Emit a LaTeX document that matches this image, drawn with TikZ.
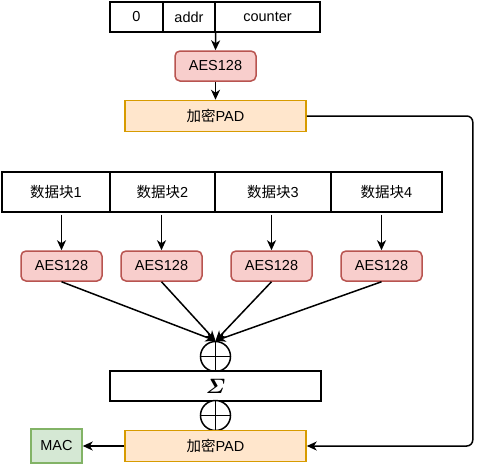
\documentclass[tikz,border=0pt]{standalone}
\usepackage{amsmath,amssymb}
\usepackage{fontspec}
\setmainfont{Liberation Sans}
\newfontfamily\cjk{Noto Sans CJK SC}
\usepackage{xcolor}
\usetikzlibrary{arrows.meta}
\definecolor{AesFill}{HTML}{F8CECC}
\definecolor{AesDraw}{HTML}{B85450}
\definecolor{PadFill}{HTML}{FFE6CC}
\definecolor{PadDraw}{HTML}{D79B00}
\definecolor{MacFill}{HTML}{D5E8D4}
\definecolor{MacDraw}{HTML}{82B366}

\begin{document}
\begin{tikzpicture}[
	x=1pt, y=-1pt, % one unit = one pixel of the layout
	font=\fontsize{14.5}{17}\selectfont,
	% Style for the plain cells
	cell/.style={
		draw,
		fill=white,
		line width=1.5pt,
		inner sep=0pt
	},
	% Style for the cipher boxes
	aes/.style={
		draw=AesDraw,
		fill=AesFill,
		rounded corners=5pt,
		line width=1.5pt,
		minimum width=81pt,
		minimum height=30pt,
		inner sep=0pt
	},
	% Style for the pad boxes
	pad/.style={
		draw=PadDraw,
		fill=PadFill,
		line width=1.5pt,
		minimum width=181pt,
		minimum height=31pt,
		inner sep=0pt
	},
	% Style for the xor circles
	xorop/.style={
		circle,
		draw,
		fill=white,
		line width=1.5pt,
		minimum size=30pt,
		inner sep=0pt,
		path picture={
			\draw[line width=1.5pt] (path picture bounding box.north) -- (path picture bounding box.south)
				(path picture bounding box.west) -- (path picture bounding box.east);
		}
	},
	% Style for the connectors
	arrow/.style={
		draw,
		line width=1.5pt,
		-{Stealth[length=10pt,width=9pt,inset=3pt]}
	}
	]
	
	\useasboundingbox (0,0) rectangle (480,464);
	
	% 1. Counter block
	\node[cell, minimum width=53pt, minimum height=30pt] (zero) at (136.5,17) {0};
	\node[cell, minimum width=52pt, minimum height=30pt] (addr) at (189,17) {addr};
	\node[cell, minimum width=105pt, minimum height=30pt] (counter) at (267.5,17) {counter};
	
	\node[aes] (aes0) at (215.5,66) {AES128};
	\node[pad] (pad1) at (215.5,116) {{\cjk 加密}PAD};
	
	% 2. Data blocks and their cipher boxes
	\node[cell, minimum width=108pt, minimum height=40pt] (blk1) at (56,192) {{\cjk 数据块}1};
	\node[cell, minimum width=105pt, minimum height=40pt] (blk2) at (162.5,192) {{\cjk 数据块}2};
	\node[cell, minimum width=116pt, minimum height=40pt] (blk3) at (273,192) {{\cjk 数据块}3};
	\node[cell, minimum width=111pt, minimum height=40pt] (blk4) at (386.5,192) {{\cjk 数据块}4};
	
	\node[aes] (aes1) at (61.5,266) {AES128};
	\node[aes] (aes2) at (161.5,266) {AES128};
	\node[aes] (aes3) at (271.5,266) {AES128};
	\node[aes] (aes4) at (381.5,266) {AES128};
	
	% 3. Sum and output
	\node[xorop] (xor1) at (215.5,356.5) {};
	\node[cell, minimum width=211pt, minimum height=30pt] (sum) at (215.5,386) {\fontsize{20}{20}\selectfont$\boldsymbol{\varSigma}$};
	\node[xorop] (xor2) at (215.5,415.5) {};
	\node[pad] (pad2) at (215.5,446) {{\cjk 加密}PAD};
	\node[draw=MacDraw, fill=MacFill, line width=1.5pt, minimum width=51pt, minimum height=34pt, inner sep=0pt] (mac) at (56.5,446) {MAC};
	
	% 4. Connectors
	\draw[arrow] (addr.south east) -- (aes0.north);
	\draw[arrow] (aes0.south) -- (pad1.north);
	
	\foreach \i in {1,2,3,4}{
		\draw[arrow, shorten <=2pt] (aes\i |- blk\i.south) -- (aes\i.north);
		\draw[arrow] (aes\i.south) -- (xor1.north);
	}
	
	\draw[arrow, rounded corners=6pt] (pad1.east) -- ++(166,0) |- (pad2.east);
	\draw[arrow] (pad2.west) -- (mac.east);
	
\end{tikzpicture}
\end{document}
